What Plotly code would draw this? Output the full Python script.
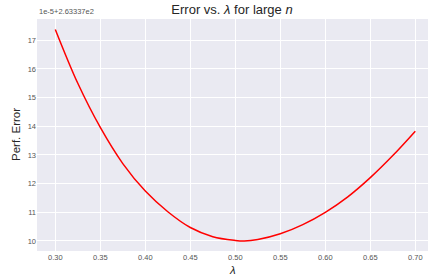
import plotly.graph_objects as go

# lambda values and performance error (in units of 1e-5, offset 2.63337e2)
lam = [0.300, 0.325, 0.350, 0.375, 0.400, 0.425, 0.450, 0.475, 0.500, 0.510,
       0.525, 0.550, 0.575, 0.600, 0.625, 0.650, 0.675, 0.700]
err = [17.38, 15.50, 13.96, 12.70, 11.74, 11.02, 10.47, 10.15, 10.02, 10.00,
       10.05, 10.25, 10.57, 11.00, 11.54, 12.21, 12.98, 13.83]

x_ticks = [0.30, 0.35, 0.40, 0.45, 0.50, 0.55, 0.60, 0.65, 0.70]
x_ticklabels = ["0.30", "0.35", "0.40", "0.45", "0.50", "0.55", "0.60", "0.65", "0.70"]
y_ticks = [10, 11, 12, 13, 14, 15, 16, 17]
y_ticklabels = ["10", "11", "12", "13", "14", "15", "16", "17"]
offset_text = "1e-5+2.63337e2"

FONT = "Liberation Sans, Arial, DejaVu Sans, sans-serif"

W, H = 428, 276
L, R, T, B = 37, 0, 19, 25

fig = go.Figure()
fig.add_trace(go.Scatter(
    x=lam, y=err, mode="lines",
    line=dict(color="#ff0000", width=1.5, shape="spline", smoothing=1.0),
    hoverinfo="skip", showlegend=False,
))

fig.update_layout(
    width=W, height=H,
    margin=dict(l=L, r=R, t=T, b=B, autoexpand=False),
    paper_bgcolor="white",
    plot_bgcolor="#EAEAF2",
    font=dict(family=FONT, color="#262626"),
    title=dict(
        text="Error vs. <i>λ</i> for large <i>n</i>",
        x=232 / W, xanchor="center", y=1 - 9 / H, yanchor="middle",
        font=dict(size=13, color="#262626", family=FONT),
    ),
    xaxis=dict(
        range=[0.27967, 0.71411], automargin=False,
        tickvals=x_ticks, ticktext=x_ticklabels,
        showgrid=True, gridcolor="white", gridwidth=1,
        zeroline=False, showline=False, ticks="",
        tickfont=dict(size=7.5, color="#555555"),
    ),
    yaxis=dict(
        range=[9.651, 17.743], automargin=False,
        tickvals=y_ticks, ticktext=y_ticklabels,
        showgrid=True, gridcolor="white", gridwidth=1,
        zeroline=False, showline=False, ticks="",
        tickfont=dict(size=7.5, color="#555555"),
    ),
)

fig.add_annotation(
    text=offset_text, xref="paper", yref="paper",
    x=0.0, y=1.0, xanchor="left", yanchor="bottom", yshift=1,
    showarrow=False, font=dict(size=7.5, color="#555555", family=FONT),
)
# axis titles
fig.add_annotation(
    text="<i>λ</i>", xref="paper", yref="paper",
    x=0.5, y=-(270 - (H - B)) / (H - T - B), xanchor="center", yanchor="middle",
    showarrow=False, font=dict(size=11.5, color="#262626", family=FONT),
)
fig.add_annotation(
    text="Perf. Error", xref="paper", yref="paper",
    x=-(37 - 16) / (W - L - R), y=0.5, xanchor="center", yanchor="middle",
    textangle=-90,
    showarrow=False, font=dict(size=11.5, color="#262626", family=FONT),
)

fig.write_html(
    "out.html",
    config={"displayModeBar": False},
    post_script="document.body.style.margin='0';document.body.style.overflow='hidden';",
)
